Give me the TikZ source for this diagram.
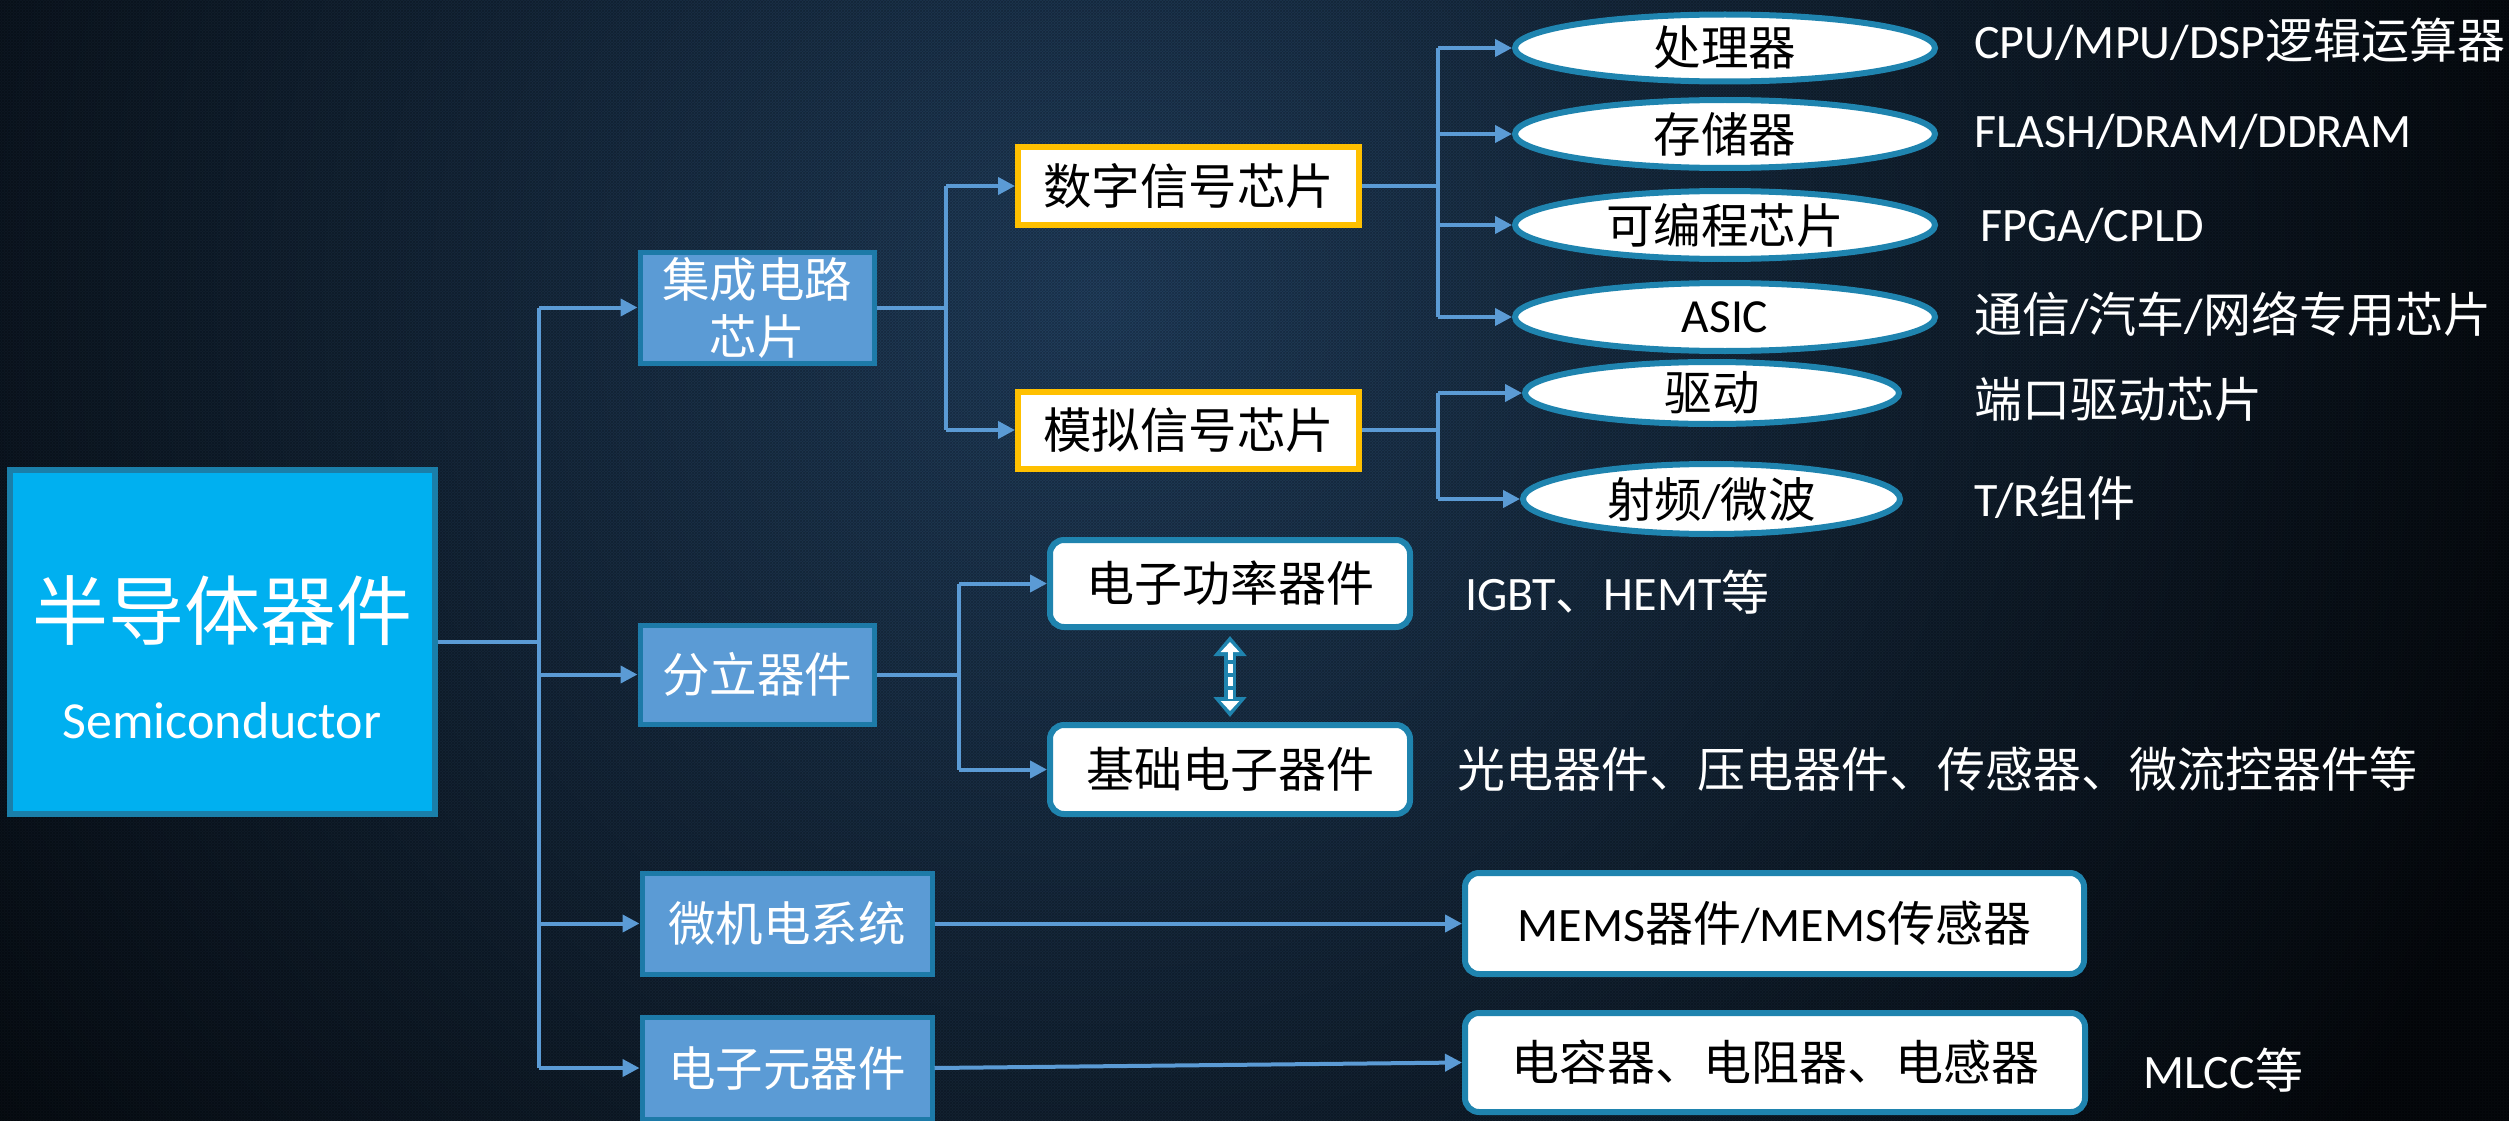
\documentclass[tikz,border=0pt]{standalone}
\usepackage{fontspec}
\setmainfont{Noto Sans CJK SC}
\newfontfamily\lat{Carlito}
\usetikzlibrary{shapes.geometric,arrows.meta,calc,patterns}
\definecolor{mainfill}{HTML}{00B0F0}
\definecolor{mainedge}{HTML}{1A7FAA}
\definecolor{catfill}{HTML}{5B9BD5}
\definecolor{catedge}{HTML}{1D7AA8}
\definecolor{linkc}{HTML}{5B9BD5}
\definecolor{elledge}{HTML}{1F84AF}
\definecolor{goldc}{HTML}{FFC000}
\definecolor{bgin}{HTML}{22405F}
\definecolor{bgout}{HTML}{06090D}
\newcommand\fsz[1]{\fontsize{#1}{#1}\selectfont}
\begin{document}
\begin{tikzpicture}[x=1pt,y=-1pt,
 mainbox/.style={rectangle, fill=mainfill, draw=mainedge, line width=6pt, minimum width=425pt, minimum height=344pt},
 maintext/.style={text=white, inner sep=0pt},
 cat/.style={rectangle, fill=catfill, draw=catedge, line width=5pt, text=white, font=\fontsize{47.5}{57}\selectfont, align=center, inner sep=0pt},
 gold/.style={rectangle, fill=white, draw=goldc, line width=6pt, font=\fsz{48.5}, inner sep=0pt, minimum width=341pt, minimum height=77pt},
 ell/.style={ellipse, fill=white, draw=elledge, line width=6pt, font=\fsz{47.5}, inner sep=0pt, minimum width=420pt, minimum height=68pt},
 rbox/.style={rectangle, rounded corners=14pt, fill=white, draw=elledge, line width=6pt, font=\fsz{48}, inner sep=0pt},
 note/.style={anchor=west, text=white, font=\fsz{48}, inner sep=0pt},
 link/.style={draw=linkc, line width=4pt},
 arr/.style={link, -{Triangle[length=17pt,width=17pt]}},
]
% background
\begin{scope}
\clip (0,0) rectangle (2509,1121);
\fill[bgout] (0,0) rectangle (2509,1121);
\shade[inner color=bgin, outer color=bgout] (1100,300) circle (1500);
\fill[pattern=crosshatch, pattern color=black, opacity=0.22] (0,0) rectangle (2509,1121);
\end{scope}
\useasboundingbox (0,0) rectangle (2509,1121);

% main
\node[mainbox] (main) at (222,642) {};
\node[maintext, font=\fsz{76}] (mainzh) at (222,611) {半导体器件};
\node[maintext, font=\lat\fsz{52}] (mainen) at (222,721) {Semiconductor};

% column 2
\node[cat, minimum width=234pt, minimum height=111pt] (jc) at (757,307.5) {集成电路\\芯片};
\node[cat, minimum width=234pt, minimum height=99pt] (fl) at (757,674.5) {分立器件};
\node[cat, minimum width=290pt, minimum height=101pt] (wj) at (787,923.5) {微机电系统};
\node[cat, minimum width=290pt, minimum height=102pt] (dz) at (787,1068) {电子元器件};

% column 3
\node[gold] (sz) at (1188.5,186) {数字信号芯片};
\node[gold] (mn) at (1188.5,430) {模拟信号芯片};

% ellipses
\node[ell, minimum height=67pt] (e1) at (1725,48) {处理器};
\node[ell] (e2) at (1725,134) {存储器};
\node[ell] (e3) at (1725,225) {可编程芯片};
\node[ell] (e4) at (1725,317) {{\lat ASIC}};
\node[ell, minimum width=374pt, minimum height=62pt] (e5) at (1712,393) {驱动};
\node[ell, minimum width=377pt, minimum height=70pt] (e6) at (1711.5,499) {射频{\lat /}微波};

% rounded boxes
\node[rbox, minimum width=360pt, minimum height=87pt] (pw) at (1230,583.5) {电子功率器件};
\node[rbox, minimum width=360pt, minimum height=89pt] (jb) at (1230,769.5) {基础电子器件};
\node[rbox, minimum width=619pt, minimum height=101pt] (mems) at (1774.5,923.5) {{\lat MEMS}器件{\lat /MEMS}传感器};
\node[rbox, minimum width=620pt, minimum height=99pt] (dr) at (1775,1062.5) {电容器、电阻器、电感器};

% notes
\node[note] (n1) at (1974,40) {{\lat CPU/MPU/DSP}逻辑运算器};
\node[note] (n2) at (1974,132) {\lat FLASH/DRAM/DDRAM};
\node[note] (n3) at (1980,226) {\lat FPGA/CPLD};
\node[note] (n4) at (1974,314) {通信{\lat /}汽车{\lat /}网络专用芯片};
\node[note] (n5) at (1974,399) {端口驱动芯片};
\node[note] (n6) at (1974,498) {{\lat T/R}组件};
\node[note] (n7) at (1465,592) {{\lat IGBT}、{\lat HEMT}等};
\node[note] (n8) at (1457,769) {光电器件、压电器件、传感器、微流控器件等};
\node[note] (n9) at (2143,1070) {{\lat MLCC}等};

% connectors
\coordinate (t) at (539,642);
\draw[link] (main.east) -- (t);
\draw[link] (t |- jc.west) -- (t |- dz.west);
\foreach \n in {jc,fl,wj,dz} \draw[arr] (t |- \n.west) -- (\n.west);

\coordinate (u) at (946,0);
\draw[link] (jc.east) -- (jc.east -| u);
\draw[link] (u |- sz.west) -- (u |- mn.west);
\foreach \n in {sz,mn} \draw[arr] (u |- \n.west) -- (\n.west);

\coordinate (v) at (1438,0);
\draw[link] (sz.east) -- (sz.east -| v);
\draw[link] (v |- e1.west) -- (v |- e4.west);
\foreach \n in {e1,e2,e3,e4} \draw[arr] (v |- \n.west) -- (\n.west);
\draw[link] (mn.east) -- (mn.east -| v);
\draw[link] (v |- e5.west) -- (v |- e6.west);
\foreach \n in {e5,e6} \draw[arr] (v |- \n.west) -- (\n.west);

\coordinate (w) at (959,0);
\draw[link] (fl.east) -- (fl.east -| w);
\draw[link] (w |- pw.west) -- (w |- jb.west);
\foreach \n in {pw,jb} \draw[arr] (w |- \n.west) -- (\n.west);

\draw[arr] (wj.east) -- (mems.west);
\draw[arr] (dz.east) -- (dr.west);

% double arrow
\draw[draw=elledge, fill=elledge, line width=12pt, {Triangle[length=20pt,width=32pt]}-{Triangle[length=20pt,width=32pt]}, shorten <=6pt, shorten >=5pt] (pw.south) -- (jb.north);
\draw[white, line width=5pt, dash pattern=on 9pt off 4pt, {Triangle[length=10pt,width=18pt]}-{Triangle[length=10pt,width=18pt]}, shorten <=12pt, shorten >=11pt] (pw.south) -- (jb.north);
\end{tikzpicture}
\end{document}
